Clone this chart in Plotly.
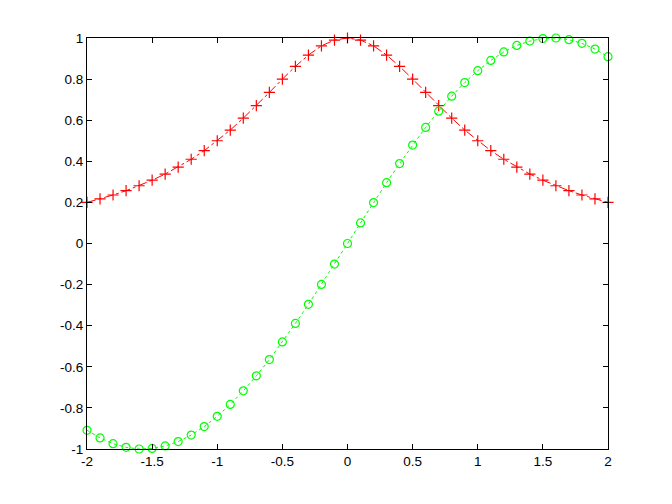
import plotly.graph_objects as go

x_vals = [-2.0, -1.9, -1.8, -1.7, -1.6, -1.5, -1.4, -1.3, -1.2, -1.1, -1.0,
          -0.9, -0.8, -0.7, -0.6, -0.5, -0.4, -0.3, -0.2, -0.1, 0.0,
          0.1, 0.2, 0.3, 0.4, 0.5, 0.6, 0.7, 0.8, 0.9, 1.0,
          1.1, 1.2, 1.3, 1.4, 1.5, 1.6, 1.7, 1.8, 1.9, 2.0]

red_vals = [0.200, 0.217, 0.236, 0.257, 0.281, 0.308, 0.338, 0.372, 0.410, 0.452, 0.500,
            0.552, 0.610, 0.671, 0.735, 0.800, 0.862, 0.917, 0.962, 0.990, 1.000,
            0.990, 0.962, 0.917, 0.862, 0.800, 0.735, 0.671, 0.610, 0.552, 0.500,
            0.452, 0.410, 0.372, 0.338, 0.308, 0.281, 0.257, 0.236, 0.217, 0.200]

green_vals = [-0.909, -0.946, -0.974, -0.992, -1.000, -0.997, -0.985, -0.964, -0.932, -0.891, -0.841,
              -0.783, -0.717, -0.644, -0.565, -0.479, -0.389, -0.296, -0.199, -0.100, 0.000,
              0.100, 0.199, 0.296, 0.389, 0.479, 0.565, 0.644, 0.717, 0.783, 0.841,
              0.891, 0.932, 0.964, 0.985, 0.997, 1.000, 0.992, 0.974, 0.946, 0.909]

x_ticks = [-2, -1.5, -1, -0.5, 0, 0.5, 1, 1.5, 2]
x_tick_labels = ["-2", "-1.5", "-1", "-0.5", "0", "0.5", "1", "1.5", "2"]
y_ticks = [-1, -0.8, -0.6, -0.4, -0.2, 0, 0.2, 0.4, 0.6, 0.8, 1]
y_tick_labels = ["-1", "-0.8", "-0.6", "-0.4", "-0.2", "0", "0.2", "0.4", "0.6", "0.8", "1"]

fig = go.Figure()
fig.add_trace(go.Scatter(
    x=x_vals, y=red_vals, mode="lines+markers",
    line=dict(color="#ff0000", width=1, dash="dashdot"),
    marker=dict(symbol="cross-thin", size=8, line=dict(color="#ff0000", width=1.2)),
    cliponaxis=False, showlegend=False))
fig.add_trace(go.Scatter(
    x=x_vals, y=green_vals, mode="lines+markers",
    line=dict(color="#00ff00", width=1, dash="dot"),
    marker=dict(symbol="circle-open", size=8, color="#00ff00", line=dict(color="#00ff00", width=1.2)),
    cliponaxis=False, showlegend=False))

axis_common = dict(
    showgrid=False, zeroline=False, showline=True, linecolor="black", linewidth=1,
    mirror="ticks", ticks="inside", ticklen=5, tickcolor="black", tickwidth=1,
    tickfont=dict(family="Liberation Sans, Arial, sans-serif", size=13.5, color="black"),
)
fig.update_xaxes(range=[-2, 2], tickmode="array", tickvals=x_ticks, ticktext=x_tick_labels, **axis_common)
fig.update_yaxes(range=[-1, 1], tickmode="array", tickvals=y_ticks, ticktext=y_tick_labels, **axis_common)

fig.update_layout(
    width=672, height=504,
    margin=dict(l=79, r=72, t=30, b=63),
    paper_bgcolor="white", plot_bgcolor="white",
)
fig.write_html("out.html")
